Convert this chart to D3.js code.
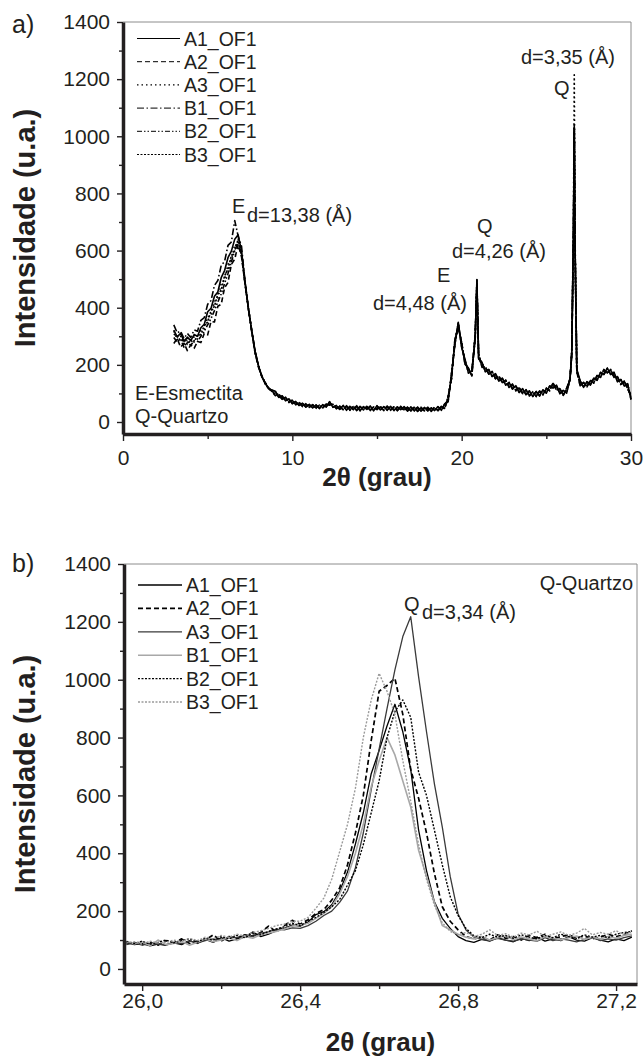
<!DOCTYPE html>
<html>
<head>
<meta charset="utf-8">
<script src="https://cdn.jsdelivr.net/npm/d3@7"></script>
<style>
  body { margin: 0; background: #fff; }
  text { font-family: "Liberation Sans", Arial, sans-serif; fill: #231f20; }
</style>
</head>
<body>
<svg id="chart" width="643" height="1057"></svg>
<script>
// ---- panel a: full scan 3-30 deg ----
const angA = [3.0,3.2,3.4,3.6,3.8,4.0,4.2,4.4,4.6,4.8,
  5.0,5.2,5.4,5.6,5.8,6.0,6.2,6.4,6.6,6.8,
  7.0,7.2,7.4,7.6,7.8,8.0,8.2,8.4,8.6,8.8,
  9.0,9.2,9.4,9.6,9.8,10.0,10.2,10.4,10.6,10.8,
  11.0,11.2,11.4,11.6,11.8,12.0,12.2,12.4,12.6,12.8,
  13.0,13.2,13.4,13.6,13.8,14.0,14.2,14.4,14.6,14.8,
  15.0,15.2,15.4,15.6,15.8,16.0,16.2,16.4,16.6,16.8,
  17.0,17.2,17.4,17.6,17.8,18.0,18.2,18.4,18.6,18.8,
  19.0,19.2,19.4,19.6,19.8,20.0,20.2,20.4,20.6,20.8,
  20.9,21.0,21.2,21.4,21.6,21.8,22.0,22.2,22.4,22.6,
  22.8,23.0,23.2,23.4,23.6,23.8,24.0,24.2,24.4,24.6,
  24.8,25.0,25.2,25.4,25.6,25.8,26.0,26.2,26.4,26.5,
  26.6,26.65,26.7,26.8,27.0,27.2,27.4,27.6,27.8,28.0,
  28.2,28.4,28.6,28.8,29.0,29.2,29.4,29.6,29.8,30.0];

const a_A1 = [322,298,310,283,297,285,306,300,330,342,
  386,398,440,455,505,530,575,598,640,655,
  598,492,398,322,248,198,158,138,116,112,
  108,86,92,74,81,64,72,58,66,52,
  62,49,60,47,61,52,71,51,58,44,
  58,41,55,43,57,39,54,44,56,39,
  57,42,54,41,55,40,53,43,54,38,
  53,39,52,38,51,39,50,40,54,41,
  64,71,169,271,349,261,219,171,179,291,
  499,221,209,176,184,159,169,143,154,129,
  139,115,127,103,117,95,109,89,107,91,
  113,101,127,119,129,99,111,101,155,235,
  660,1035,590,185,144,121,141,129,154,146,
  174,166,189,166,174,141,149,126,134,80];
const a_A2 = [275,292,262,276,250,270,258,282,278,310,
  305,352,350,405,412,470,488,552,570,622,
  578,486,404,318,242,192,162,132,120,106,
  92,99,78,87,68,77,60,69,54,64,
  50,61,48,59,49,64,59,63,46,56,
  42,57,41,56,40,55,42,55,40,54,
  43,55,40,56,41,54,39,55,40,52,
  38,53,37,52,38,52,37,53,39,55,
  46,89,151,289,331,279,201,189,161,309,
  481,239,191,194,166,177,151,161,136,147,
  121,133,109,121,99,113,91,107,89,109,
  95,119,109,137,111,117,93,119,146,245,
  640,1010,610,175,126,139,123,147,136,164,
  156,184,171,184,156,159,131,144,116,94];
const a_A3 = [318,288,300,272,290,275,298,290,322,325,
  368,372,422,432,485,498,552,568,622,612,
  592,490,396,324,246,196,160,136,118,110,
  104,88,89,76,78,66,70,59,63,54,
  59,51,57,49,58,55,68,54,55,47,
  55,44,52,46,53,43,51,46,52,42,
  55,44,51,45,52,43,50,45,51,41,
  50,42,48,41,48,42,47,43,50,44,
  62,73,167,273,347,263,217,173,177,293,
  497,223,207,178,182,161,167,145,152,131,
  137,117,125,105,115,97,107,91,105,93,
  111,103,125,121,127,101,109,103,152,250,
  700,1215,640,178,142,123,139,131,152,148,
  172,168,187,168,172,143,147,128,132,82];
const a_B1 = [340,312,318,292,310,296,322,318,356,365,
  412,425,478,495,548,562,618,630,705,650,
  615,495,402,316,250,194,157,138,114,109,
  96,97,80,85,71,75,62,67,57,61,
  52,59,50,57,51,62,61,61,48,54,
  44,55,43,54,42,53,43,53,42,52,
  45,53,42,54,43,52,41,53,42,50,
  40,51,39,50,40,50,39,51,41,53,
  48,87,153,287,333,277,203,187,163,307,
  483,237,193,192,168,175,153,159,138,145,
  123,131,111,119,101,111,93,105,91,107,
  97,117,111,135,113,115,95,117,148,238,
  645,1025,605,182,128,137,125,145,138,162,
  158,182,173,182,158,157,133,142,118,90];
const a_B2 = [296,280,290,262,280,268,285,282,300,318,
  340,362,390,420,448,485,520,560,600,630,
  585,488,400,320,244,197,161,134,119,107,
  106,87,90,75,80,65,71,58,65,53,
  61,50,59,48,60,53,70,52,57,45,
  57,42,54,44,56,40,53,45,55,40,
  56,43,53,42,54,41,52,44,53,39,
  52,40,51,39,50,40,49,41,53,42,
  63,72,168,272,348,262,218,172,178,292,
  498,222,208,177,183,160,168,144,153,130,
  138,116,126,104,116,96,108,90,106,92,
  112,102,126,120,128,100,110,102,149,242,
  655,1040,595,176,143,122,140,130,153,147,
  173,167,188,167,173,142,148,127,133,78];
const a_B3 = [308,300,285,290,272,288,280,302,306,338,
  350,390,405,448,462,512,535,582,600,640,
  588,494,398,322,243,195,159,137,117,111,
  94,98,79,86,70,76,61,68,55,63,
  51,60,49,58,50,63,60,62,47,55,
  43,56,42,55,41,54,42,54,41,53,
  44,54,41,55,42,53,40,54,41,51,
  39,52,38,51,39,51,38,52,40,54,
  47,88,152,288,332,278,202,188,162,308,
  482,238,192,193,167,176,152,160,137,146,
  122,132,110,120,100,112,92,106,90,108,
  96,118,110,136,112,116,94,118,150,236,
  648,1020,602,183,127,138,124,146,137,163,
  157,183,172,183,157,158,132,143,117,92];

// ---- panel b: zoom on the quartz peak ----
const angB = [25.96,25.98,26.00,26.02,26.04,26.06,26.08,26.10,26.12,26.14,
  26.16,26.18,26.20,26.22,26.24,26.26,26.28,26.30,26.32,26.34,
  26.36,26.38,26.40,26.42,26.44,26.46,26.48,26.50,26.52,26.54,
  26.56,26.58,26.60,26.62,26.64,26.66,26.68,26.70,26.72,26.74,
  26.76,26.78,26.80,26.82,26.84,26.86,26.88,26.90,26.92,26.94,
  26.96,26.98,27.00,27.02,27.04,27.06,27.08,27.10,27.12,27.14,
  27.16,27.18,27.20,27.22,27.24];

const b_A1 = [92,84,88,80,86,82,90,84,98,88,
  102,92,108,96,104,110,128,112,120,132,
  140,152,148,162,188,198,222,268,335,432,
  540,675,755,840,915,820,690,480,340,232,
  175,140,112,98,92,102,96,108,100,94,
  106,98,110,96,104,98,112,100,96,108,
  100,94,104,98,110];
const b_A2 = [88,90,84,92,82,98,90,104,88,96,
  100,118,96,112,106,118,114,126,148,128,
  150,168,155,170,192,205,238,280,360,470,
  600,790,960,980,1005,880,690,590,470,330,
  215,165,135,112,104,110,100,118,106,112,
  100,116,108,120,104,112,118,106,114,104,
  110,120,112,118,132];
const b_A3 = [84,90,82,88,86,84,92,88,96,90,
  98,104,100,110,108,116,112,124,128,138,
  135,142,140,150,165,185,200,230,270,350,
  470,620,760,900,1034,1149,1218,1010,820,640,
  490,320,190,135,110,102,98,106,100,96,
  104,100,96,108,98,104,100,94,102,110,
  98,104,100,108,114];
const b_B1 = [96,86,94,80,100,84,88,96,82,92,
  104,94,100,108,98,112,106,118,124,130,
  138,148,152,158,175,192,215,260,320,400,
  500,630,720,800,740,650,560,410,320,230,
  150,135,120,110,104,112,100,108,114,102,
  110,104,98,112,106,100,108,114,102,110,
  104,112,106,116,120];
const b_B2 = [94,88,96,86,92,100,90,98,104,94,
  106,100,112,104,116,108,122,118,130,138,
  146,158,150,165,178,195,215,240,290,340,
  430,540,650,800,890,930,870,680,600,480,
  360,250,185,140,115,108,120,110,116,106,
  118,110,104,116,108,120,112,106,118,110,
  116,108,120,126,130];
const b_B3 = [90,94,86,96,90,92,100,94,106,98,
  110,104,116,110,120,114,126,132,140,150,
  155,165,165,178,210,245,310,405,500,625,
  800,930,1022,960,880,720,580,430,310,220,
  160,130,118,126,112,120,135,116,122,110,
  124,118,130,112,120,128,116,124,140,118,
  126,120,132,118,128];

const sampleNames = ["A1_OF1", "A2_OF1", "A3_OF1", "B1_OF1", "B2_OF1", "B3_OF1"];
const yMajor = [0, 200, 400, 600, 800, 1000, 1200, 1400];
const yMinor = [100, 300, 500, 700, 900, 1100, 1300];
const xMajorA = [0, 10, 20, 30];
const xMinorA = [5, 15, 25];
const xMajorB = [26.0, 26.4, 26.8, 27.2];
const xMinorB = [26.2, 26.6, 27.0];

const svg = d3.select("#chart");
const ink = "#231f20";

function drawPanel(p) {
  const x = d3.scaleLinear().domain(p.xDomain).range([p.left, p.right]);
  const y = d3.scaleLinear().domain(p.yDomain).range([p.bottom, p.top]);
  const g = svg.append("g");

  // thin frame on top and right
  g.append("path")
    .attr("d", `M${p.left},${p.top}H${p.right}V${p.bottom}`)
    .attr("fill", "none")
    .attr("stroke", "#8c8c8c")
    .attr("stroke-width", 1);

  // curves
  const line = d3.line()
    .x(d => x(d[0]))
    .y(d => y(d[1]));
  p.series.forEach(s => {
    g.append("path")
      .datum(p.xs.map((a, i) => [a, s.values[i]]))
      .attr("fill", "none")
      .attr("stroke", s.color)
      .attr("stroke-width", s.curveWidth || s.width)
      .attr("stroke-dasharray", s.dash)
      .attr("stroke-linejoin", "round")
      .attr("d", line);
  });

  // y axis
  g.append("g").attr("transform", `translate(${p.left},0)`)
    .call(d3.axisLeft(y).tickValues(yMajor).tickSize(6).tickPadding(7)
      .tickSizeOuter(0).tickFormat(d3.format("d")));
  g.append("g").attr("transform", `translate(${p.left},0)`)
    .call(d3.axisLeft(y).tickValues(yMinor).tickSize(4).tickFormat("").tickSizeOuter(0))
    .call(a => a.select(".domain").remove());

  // x axis
  g.append("g").attr("transform", `translate(0,${p.bottom})`)
    .call(d3.axisBottom(x).tickValues(p.xMajor).tickSize(7).tickPadding(p.xPad)
      .tickSizeOuter(0).tickFormat(p.fmt));
  g.append("g").attr("transform", `translate(0,${p.bottom})`)
    .call(d3.axisBottom(x).tickValues(p.xMinor).tickSize(5).tickFormat("").tickSizeOuter(0))
    .call(a => a.select(".domain").remove());

  g.selectAll(".tick line").attr("stroke", ink).attr("stroke-width", 1.4);
  g.selectAll(".domain").attr("stroke", ink).attr("stroke-width", 3.5);
  g.selectAll(".tick text")
    .style("font-family", '"Liberation Sans", Arial, sans-serif')
    .attr("font-size", 21).attr("fill", ink);

  // axis titles
  g.append("text")
    .attr("transform", `translate(35,${(p.top + p.bottom) / 2}) rotate(-90)`)
    .attr("text-anchor", "middle")
    .attr("font-size", 29).attr("font-weight", "bold")
    .text("Intensidade (u.a.)");
  g.append("text")
    .attr("x", (p.left + p.right) / 2).attr("y", p.titleY)
    .attr("text-anchor", "middle")
    .attr("font-size", 26).attr("font-weight", "bold")
    .text("2θ (grau)");

  // panel letter
  g.append("text").attr("x", 12).attr("y", p.letterY)
    .attr("font-size", 25).text(p.letter);

  // legend
  p.series.forEach((s, i) => {
    const ly = p.legY + i * p.legStep;
    g.append("line")
      .attr("x1", p.legX).attr("x2", p.legX + p.legLen)
      .attr("y1", ly).attr("y2", ly)
      .attr("stroke", s.color).attr("stroke-width", s.width)
      .attr("stroke-dasharray", s.dash);
    g.append("text")
      .attr("x", p.legX + p.legLen + 4).attr("y", ly).attr("dy", "0.36em")
      .attr("font-size", 19.5)
      .text(s.name);
  });

  // annotations
  p.notes.forEach(n => {
    g.append("text")
      .attr("x", n.x).attr("y", n.y)
      .attr("text-anchor", n.anchor || "start")
      .attr("font-size", 20)
      .text(n.t);
  });
}

const comma = d => d3.format(".1f")(d).replace(".", ",");

drawPanel({
  letter: "a)", letterY: 33,
  left: 123, right: 631, top: 22, bottom: 434,
  xDomain: [0, 30], yDomain: [-42, 1400],
  xs: angA, xMajor: xMajorA, xMinor: xMinorA, xPad: 9, fmt: d3.format("d"),
  titleY: 486,
  legX: 137, legY: 38.5, legStep: 23.2, legLen: 43,
  series: [
    { name: sampleNames[0], values: a_A1, color: "#000", width: 1, curveWidth: 1.6, dash: null },
    { name: sampleNames[1], values: a_A2, color: "#000", width: 1, curveWidth: 1.6, dash: "5,3" },
    { name: sampleNames[2], values: a_A3, color: "#000", width: 1.1, curveWidth: 1.6, dash: "1.5,3" },
    { name: sampleNames[3], values: a_B1, color: "#000", width: 1, curveWidth: 1.6, dash: "7,2.5,1.5,2.5" },
    { name: sampleNames[4], values: a_B2, color: "#000", width: 1, curveWidth: 1.6, dash: "5,2,1.5,2,1.5,2" },
    { name: sampleNames[5], values: a_B3, color: "#000", width: 1, curveWidth: 1.6, dash: "2,1.5" }
  ],
  notes: [
    { t: "E", x: 232, y: 213 },
    { t: "d=13,38 (Å)", x: 247, y: 222 },
    { t: "Q", x: 477, y: 233 },
    { t: "d=4,26 (Å)", x: 452, y: 258 },
    { t: "E", x: 437, y: 282 },
    { t: "d=4,48 (Å)", x: 373, y: 310 },
    { t: "d=3,35 (Å)", x: 521, y: 64 },
    { t: "Q", x: 554, y: 95 },
    { t: "E-Esmectita", x: 135, y: 400 },
    { t: "Q-Quartzo", x: 135, y: 423 }
  ]
});

drawPanel({
  letter: "b)", letterY: 572,
  left: 124, right: 637, top: 564, bottom: 984,
  xDomain: [25.954, 27.253], yDomain: [-52, 1400],
  xs: angB, xMajor: xMajorB, xMinor: xMinorB, xPad: 2, fmt: comma,
  titleY: 1051,
  legX: 138, legY: 585, legStep: 23.4, legLen: 44,
  series: [
    { name: sampleNames[0], values: b_A1, color: "#000", width: 1.3, dash: null },
    { name: sampleNames[1], values: b_A2, color: "#000", width: 1.7, dash: "5,3" },
    { name: sampleNames[2], values: b_A3, color: "#3a3a3a", width: 1.3, dash: null },
    { name: sampleNames[3], values: b_B1, color: "#a8a8a8", width: 1.6, dash: null },
    { name: sampleNames[4], values: b_B2, color: "#000", width: 1.4, dash: "2,1.5" },
    { name: sampleNames[5], values: b_B3, color: "#9a9a9a", width: 1.4, dash: "2,1.5" }
  ],
  notes: [
    { t: "Q-Quartzo", x: 633, y: 590, anchor: "end" },
    { t: "Q", x: 404, y: 611 },
    { t: "d=3,34 (Å)", x: 422, y: 619 }
  ]
});
</script>
</body>
</html>
